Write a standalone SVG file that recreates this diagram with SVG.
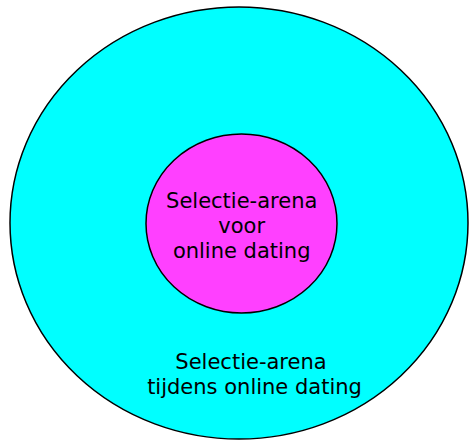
<svg xmlns="http://www.w3.org/2000/svg" width="469" height="441" viewBox="0 0 469 441">
<style>
text{font-family:"DejaVu Sans",Verdana,sans-serif;font-size:21px;fill:#000;text-anchor:middle}
ellipse{stroke:#000;stroke-width:1.5}
</style>
<rect width="469" height="441" fill="#fff"/>
<g id="outer">
<ellipse cx="239" cy="223" rx="229" ry="216" fill="#00FFFF"/>
<text x="251" y="369">Selectie-arena</text>
<text x="254.5" y="394">tijdens online dating</text>
</g>
<g id="inner">
<ellipse cx="241.5" cy="223.5" rx="95.5" ry="89.5" fill="#FF40FF"/>
<text x="241.7" y="208">Selectie-arena</text>
<text x="241.7" y="233">voor</text>
<text x="241.7" y="258">online dating</text>
</g>
<g id="connectors"/>
</svg>
